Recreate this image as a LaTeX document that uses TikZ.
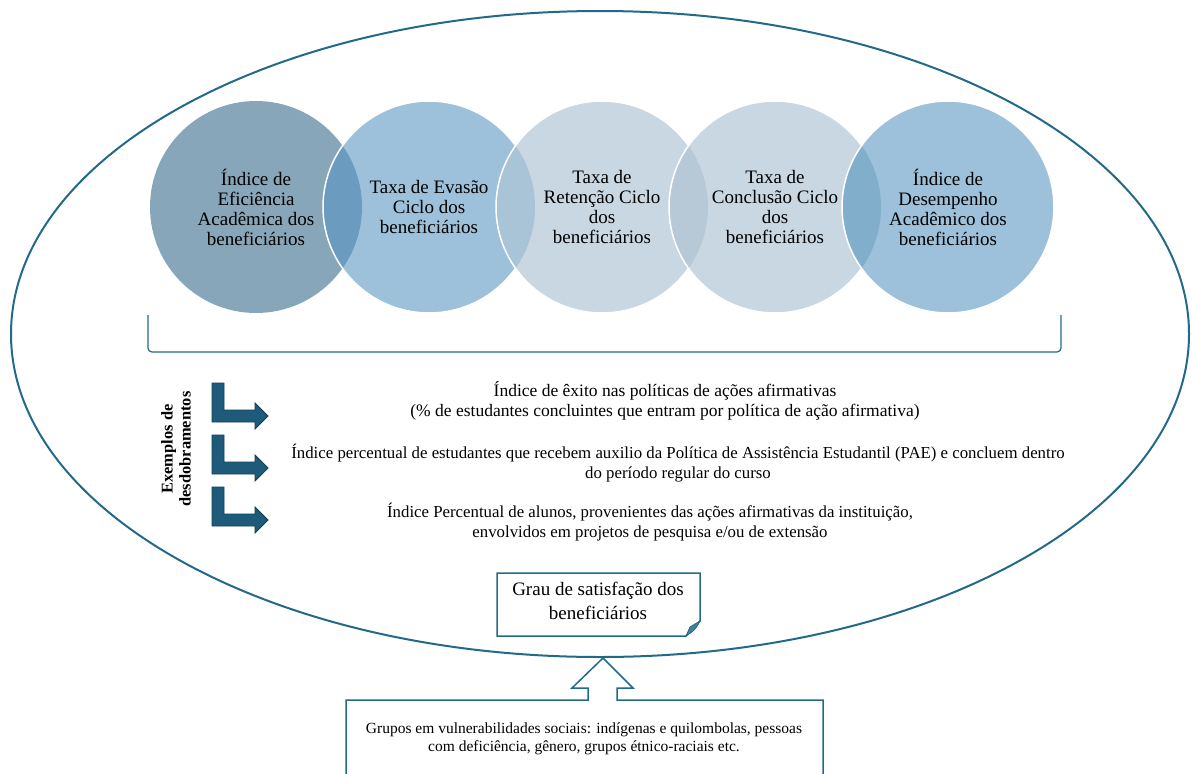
\documentclass[tikz,border=0pt]{standalone}
\usepackage{fontspec}
\setmainfont{Liberation Serif}
\usetikzlibrary{positioning}
\definecolor{ringteal}{HTML}{236A8A}
\definecolor{arrowfill}{HTML}{1E5B7B}
\definecolor{arrowedge}{HTML}{133F56}
\definecolor{ballA}{HTML}{88A6B9}
\definecolor{ballB}{HTML}{9DC1DA}
\definecolor{ballC}{HTML}{C9D7E3}
\definecolor{lensAB}{HTML}{6B9BBE}
\definecolor{lensBC}{HTML}{A9C3D7}
\definecolor{lensCD}{HTML}{B7C8D6}
\definecolor{lensDE}{HTML}{80AECB}
\tikzset{
  ball/.style={circle, minimum size=212pt, inner sep=0pt},
  balltext/.style={align=center, font=\fontsize{19}{20}\selectfont},
  bodytext/.style={align=center, font=\fontsize{16.8}{19.5}\selectfont},
}
% L-shaped block arrow, top-left corner at (#1,#2)
\def\larrow(#1,#2){\draw[fill=arrowfill, draw=arrowedge, line width=0.8pt] (#1,#2) -- ++(12,0) -- ++(0,27) -- ++(31,0) -- ++(0,-7) -- ++(13,13) -- ++(-13,13) -- ++(0,-7) -- ++(-43,0) -- cycle;}

\begin{document}
\begin{tikzpicture}[x=1pt, y=-1pt]
			%%%%% START %%%%%
			\useasboundingbox (0,0) rectangle (1192,774);
			\begin{scope}
			\clip (0,0) rectangle (1192,774);
			
			% big ring
			\draw[ringteal, line width=2pt] (600,334) ellipse [x radius=589, y radius=323];
			
			% five indicators
			\node[ball, fill=ballA] (c1) at (256,207) {};
			\node[ball, fill=ballB] (c2) at (429,207) {};
			\begin{scope}
				\clip (c1.center) circle (106);
				\fill[lensAB] (c2.center) circle (106);
			\end{scope}
			\draw[white, line width=1.5pt] (c2.center) circle (106);
			
			\node[ball, fill=ballC] (c3) at (602,207) {};
			\begin{scope}
				\clip (c2.center) circle (106);
				\fill[lensBC] (c3.center) circle (106);
			\end{scope}
			\draw[white, line width=1.5pt] (c3.center) circle (106);
			
			\node[ball, fill=ballC] (c4) at (775,207) {};
			\begin{scope}
				\clip (c3.center) circle (106);
				\fill[lensCD] (c4.center) circle (106);
			\end{scope}
			\draw[white, line width=1.5pt] (c4.center) circle (106);
			
			\node[ball, fill=ballB] (c5) at (948,207) {};
			\begin{scope}
				\clip (c4.center) circle (106);
				\fill[lensDE] (c5.center) circle (106);
			\end{scope}
			\draw[white, line width=1.5pt] (c5.center) circle (106);
			
			\node[balltext] (t1) at (c1) {Índice de\\Eficiência\\Acadêmica dos\\beneficiários};
			\node[balltext] (t2) at (c2) {Taxa de Evasão\\Ciclo dos\\beneficiários};
			\node[balltext] (t3) at (c3) {Taxa de\\Retenção Ciclo\\dos\\beneficiários};
			\node[balltext] (t4) at (c4) {Taxa de\\Conclusão Ciclo\\dos\\beneficiários};
			\node[balltext] (t5) at (c5) {Índice de\\Desempenho\\Acadêmico dos\\beneficiários};
			
			% bracket under the circles
			\draw[ringteal, line width=1.2pt, rounded corners=4pt] (148,315) -- (148,352) -- (1061,352) -- (1061,315);
			
			% examples
			\node[rotate=90, align=center, font=\fontsize{16.4}{18}\selectfont\bfseries] (exlabel) at (176,449) {Exemplos de\\desdobramentos};
			\larrow(212,383)
			\larrow(212,435)
			\larrow(212,487)
			\node[align=center, font=\fontsize{17.5}{19.5}\selectfont] (ex1) at (665,401) {Índice de êxito nas políticas de ações afirmativas\\(\% de estudantes concluintes que entram por política de ação afirmativa)};
			\node[bodytext] (ex2) at (678,463) {Índice percentual de estudantes que recebem auxilio da Política de Assistência Estudantil (PAE) e concluem dentro\\do período regular do curso};
			\node[bodytext] (ex3) at (650,522) {Índice Percentual de alunos, provenientes das ações afirmativas da instituição,\\envolvidos em projetos de pesquisa e/ou de extensão};
			
			% satisfaction note
			\draw[ringteal, fill=white, line width=1.5pt] (497,573) -- (700,573) -- (700,621) -- (686,636) -- (497,636) -- cycle;
			\draw[ringteal, fill=ringteal!85, line width=0.8pt] (686,636) -- (690,627) -- (700,621) .. controls (695,630) .. (686,636);
			\node[align=center, font=\fontsize{19}{24}\selectfont] (satis) at (598,601) {Grau de satisfação dos\\beneficiários};
			
			% groups box with up arrow
			\draw[ringteal, fill=white, line width=1.5pt] (346,790) -- (346,700) -- (588,700) -- (588,688) -- (572,688) -- (603,658) -- (633,688) -- (617,688) -- (617,700) -- (823,700) -- (823,790);
			\node[align=center, font=\fontsize{15.5}{17.5}\selectfont] (grupos) at (584,739) {Grupos em vulnerabilidades sociais: indígenas e quilombolas, pessoas\\com deficiência, gênero, grupos étnico-raciais etc.};
			\end{scope}
			%%%%% END %%%%%
\end{tikzpicture}
\end{document}
